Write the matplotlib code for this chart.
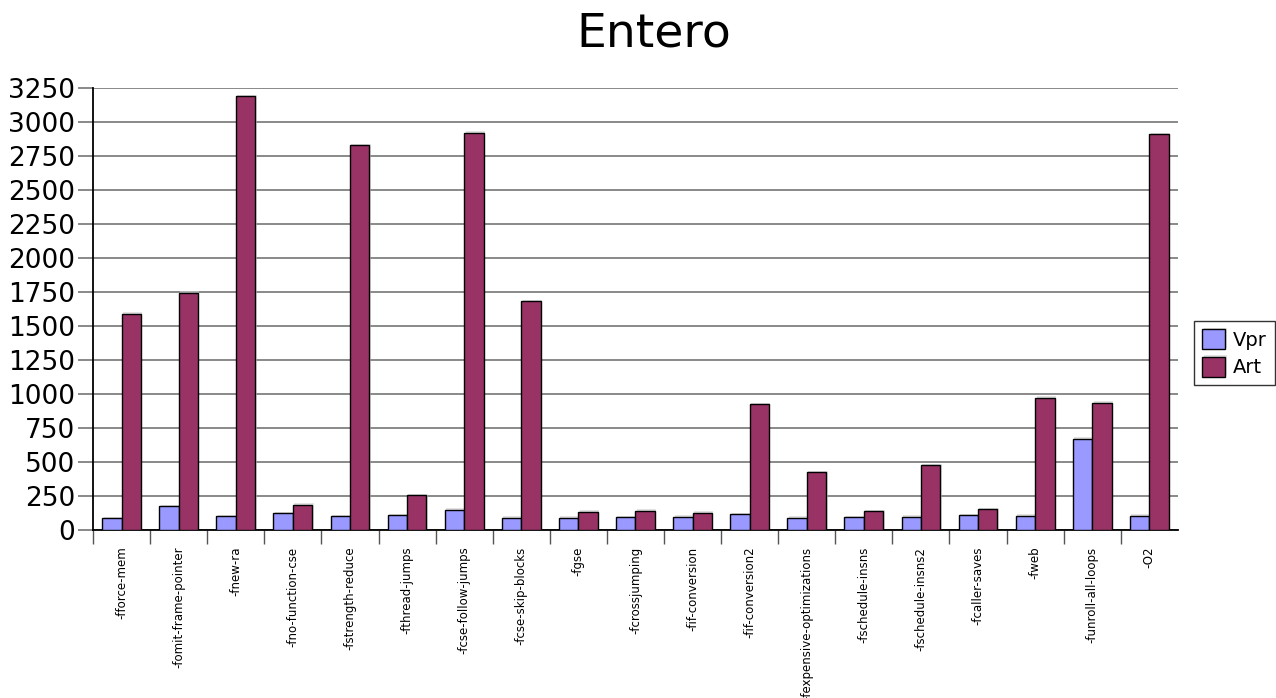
import matplotlib
matplotlib.use("Agg")
import matplotlib.pyplot as plt
import matplotlib.patheffects as pe
import numpy as np

flags = [
    "-fforce-mem", "-fomit-frame-pointer", "-fnew-ra", "-fno-function-cse",
    "-fstrength-reduce", "-fthread-jumps", "-fcse-follow-jumps",
    "-fcse-skip-blocks", "-fgse", "-fcrossjumping", "-fif-conversion",
    "-fif-conversion2", "-fexpensive-optimizations", "-fschedule-insns",
    "-fschedule-insns2", "-fcaller-saves", "-fweb", "-funroll-all-loops", "-O2",
]
vpr = [86, 174, 103, 123, 103, 108, 150, 91, 91, 93, 98, 115, 91, 96, 98,
       110, 106, 672, 106]
art = [1590, 1745, 3190, 187, 2830, 257, 2920, 1680, 135, 143, 128, 926,
       426, 137, 476, 154, 973, 936, 2910]

fig = plt.figure(figsize=(12.76, 6.98), dpi=100)
ax = fig.add_axes([0.0729, 0.2407, 0.8502, 0.6333])

x = np.arange(len(flags))
w = 0.34
shadow = [pe.SimplePatchShadow(offset=(1, 1), shadow_rgbFace="#d0d0d0", alpha=0.6), pe.Normal()]
ax.bar(x - w / 2, vpr, w, color="#9999ff", edgecolor="black", linewidth=1,
       label="Vpr", zorder=3, path_effects=shadow)
ax.bar(x + w / 2, art, w, color="#993366", edgecolor="black", linewidth=1,
       label="Art", zorder=3, path_effects=shadow)

ax.set_xlim(-0.5, len(flags) - 0.5)
ax.set_ylim(0, 3250)
ax.set_yticks(np.arange(0, 3251, 250))
ax.tick_params(axis="y", labelsize=19, length=11, width=1.3, color="#808080", pad=2)
ax.yaxis.grid(True, color="#808080", linewidth=1.3, zorder=0)
ax.set_axisbelow(True)

# category labels sit between the tick marks
ax.set_xticks(x - 0.5, minor=False)
ax.set_xticklabels([])
ax.set_xticks(x, minor=True)
ax.set_xticklabels(flags, minor=True, rotation=90, fontsize=8.5, va="top", ha="center")
ax.tick_params(axis="x", which="major", length=10, width=1, color="#555555")
ax.tick_params(axis="x", which="minor", length=0, pad=12)

for side in ["top", "right"]:
    ax.spines[side].set_visible(False)
ax.spines["left"].set_linewidth(1.3)
ax.spines["bottom"].set_linewidth(1.3)

fig.text(0.512, 0.952, "Entero", ha="center", va="center", fontsize=34)

leg = fig.legend(loc="center left", bbox_to_anchor=(0.936, 0.494), fontsize=14,
                 frameon=True, fancybox=False, handlelength=1.2, handleheight=1.2,
                 handletextpad=0.4, borderpad=0.4, labelspacing=0.35, borderaxespad=0)
leg.get_frame().set_edgecolor("black")
leg.get_frame().set_linewidth(1)

fig.savefig("out.png", dpi=100)
